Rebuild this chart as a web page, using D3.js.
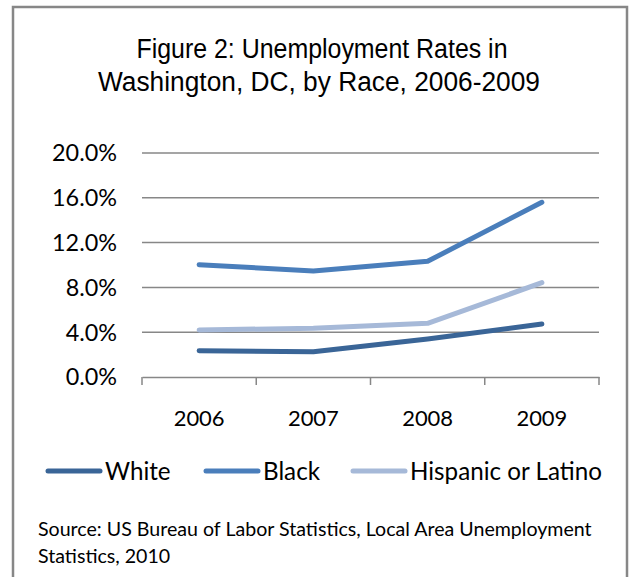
<!DOCTYPE html>
<html>
<head>
<meta charset="utf-8">
<script src="https://cdn.jsdelivr.net/npm/d3@7"></script>
<style>
  body { margin: 0; background: #fff; }
  svg { display: block; }
</style>
</head>
<body>
<svg id="chart" width="630" height="577"></svg>
<script>
const years = ['2006', '2007', '2008', '2009'];
const seriesNames = ['White', 'Black', 'Hispanic or Latino'];
const white = [2.35, 2.26, 3.39, 4.73];
const black = [10.03, 9.46, 10.33, 15.6];
const hispanic = [4.2, 4.35, 4.79, 8.42];
const yTicks = [0, 4, 8, 12, 16, 20];
const colors = ['#3A6597', '#4A7EBB', '#A6B9D8'];

const margin = { left: 142, right: 31, top: 153, bottom: 200 };
const size = { width: 630, height: 577 };

const svg = d3.select('#chart');

// scale a text's font size so it spans the wanted width
function fitFont(sel, base, target) {
    sel.style('font-size', base + 'px');
    const w = sel.node().getComputedTextLength();
    const fs = base * target / w;
    sel.style('font-size', fs + 'px');
    return fs;
}

// frame
svg.append('rect')
    .attr('x', 13).attr('y', 7)
    .attr('width', 614).attr('height', 600)
    .attr('fill', 'none')
    .attr('stroke', '#878787')
    .attr('stroke-width', 2.5);

// title
const titleFont = '"Liberation Sans", Arial, sans-serif';
svg.append('text')
    .attr('x', 322).attr('y', 58)
    .attr('text-anchor', 'middle')
    .style('font-family', titleFont)
    .style('font-size', '27px')
    .attr('textLength', 371)
    .attr('lengthAdjust', 'spacingAndGlyphs')
    .text('Figure 2: Unemployment Rates in');
svg.append('text')
    .attr('x', 319).attr('y', 91)
    .attr('text-anchor', 'middle')
    .style('font-family', titleFont)
    .style('font-size', '27px')
    .attr('textLength', 442)
    .attr('lengthAdjust', 'spacingAndGlyphs')
    .text('Washington, DC, by Race, 2006-2009');

const xScale = d3.scaleBand()
    .domain(years)
    .range([margin.left, size.width - margin.right]);

const yScale = d3.scaleLinear()
    .domain([0, 20])
    .range([size.height - margin.bottom, margin.top]);

// gridlines
svg.append('g')
    .selectAll('line')
    .data(yTicks.filter(d => d > 0))
    .join('line')
    .attr('x1', margin.left)
    .attr('x2', size.width - margin.right)
    .attr('y1', d => yScale(d))
    .attr('y2', d => yScale(d))
    .attr('stroke', '#878787')
    .attr('stroke-width', 1.5);

// y labels
const yLabels = svg.append('g')
    .selectAll('text')
    .data(yTicks)
    .join('text')
    .attr('x', 117)
    .attr('y', d => yScale(d))
    .attr('dy', '0.36em')
    .attr('text-anchor', 'end')
    .style('font-family', 'Lato, sans-serif')
    .text(d => d.toFixed(1) + '%');
const yFs = fitFont(yLabels.filter(d => d === 20), 20, 65);
yLabels.style('font-size', yFs + 'px');

// x axis
const xAxis = svg.append('g')
    .attr('transform', `translate(0, ${yScale(0)})`)
    .call(d3.axisBottom(xScale).tickSize(0).tickFormat(''));
xAxis.select('.domain').attr('stroke', '#878787').attr('stroke-width', 1.5);
const edges = years.map(y => xScale(y)).concat([xScale.range()[1]]);
xAxis.selectAll('.edge')
    .data(edges)
    .join('line')
    .attr('x1', d => d).attr('x2', d => d)
    .attr('y1', 0).attr('y2', 8)
    .attr('stroke', '#878787')
    .attr('stroke-width', 1.5);

const xLabels = svg.append('g')
    .selectAll('text')
    .data(years)
    .join('text')
    .attr('x', d => xScale(d) + xScale.bandwidth() / 2)
    .attr('y', 418)
    .attr('dy', '0.36em')
    .attr('text-anchor', 'middle')
    .style('font-family', 'Lato, sans-serif')
    .text(d => d);
const xFs = fitFont(xLabels.filter(d => d === '2006'), 20, 51);
xLabels.style('font-size', xFs + 'px');

// lines
const series = [white, black, hispanic];
const line = d3.line()
    .x((d, i) => xScale(years[i]) + xScale.bandwidth() / 2)
    .y(d => yScale(d));

svg.append('g')
    .selectAll('path')
    .data(series)
    .join('path')
    .attr('d', d => line(d))
    .attr('fill', 'none')
    .attr('stroke', (d, i) => colors[i])
    .attr('stroke-width', 5)
    .attr('stroke-linecap', 'round')
    .attr('stroke-linejoin', 'round');

// legend
const legendX = [48, 206, 353];
const legend = svg.append('g')
    .selectAll('g')
    .data(seriesNames)
    .join('g')
    .attr('transform', (d, i) => `translate(${legendX[i]}, 471)`);
legend.append('line')
    .attr('x1', 0).attr('x2', 52)
    .attr('y1', 0).attr('y2', 0)
    .attr('stroke', (d, i) => colors[i])
    .attr('stroke-width', 5)
    .attr('stroke-linecap', 'round');
const legendText = legend.append('text')
    .attr('x', 57)
    .attr('y', 0)
    .attr('dy', '0.36em')
    .style('font-family', 'Lato, sans-serif')
    .text(d => d);
const lFs = fitFont(legendText.filter(d => d === 'Hispanic or Latino'), 22, 192);
legendText.style('font-size', lFs + 'px');

// source note
const source = svg.append('text')
    .style('font-family', 'Lato, sans-serif')
    .attr('fill', '#000');
const src1 = source.append('tspan').attr('x', 38).attr('y', 536)
    .text('Source: US Bureau of Labor Statistics, Local Area Unemployment');
source.style('font-size', '17px');
const srcW = src1.node().getComputedTextLength();
source.style('font-size', (17 * 554 / srcW) + 'px');
source.append('tspan').attr('x', 38).attr('y', 563).text('Statistics, 2010');
</script>
</body>
</html>
